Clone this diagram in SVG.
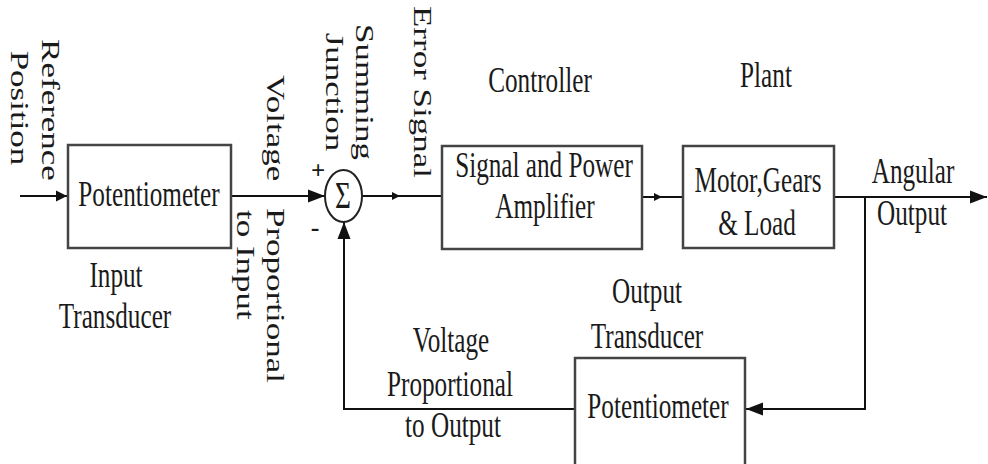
<svg xmlns="http://www.w3.org/2000/svg" width="988" height="464" viewBox="0 0 988 464">
<style>
.t{font-family:"Liberation Serif","Times New Roman",serif;font-size:35px;fill:#1a1a1a}
.c{text-anchor:middle}
.box{fill:#fff;stroke:#444;stroke-width:2.5}
.ln{fill:none;stroke:#111;stroke-width:2}
</style>
<defs>
<marker id="ahL" markerUnits="userSpaceOnUse" markerWidth="18" markerHeight="14" refX="17" refY="7" orient="auto"><path d="M0,0.5 L17,7 L0,13.5 z" fill="#111"/></marker>
<marker id="ahM" markerUnits="userSpaceOnUse" markerWidth="12" markerHeight="12" refX="11" refY="6" orient="auto"><path d="M0,0.5 L11,6 L0,11.5 z" fill="#111"/></marker>
<marker id="ahS" markerUnits="userSpaceOnUse" markerWidth="9" markerHeight="9" refX="8" refY="4.5" orient="auto"><path d="M0,0.5 L8,4.5 L0,8.5 z" fill="#111"/></marker>
</defs>
<rect width="988" height="464" fill="#fff"/>

<g id="connectors">
<path class="ln" d="M20,196 H67" marker-end="url(#ahM)"/>
<path class="ln" d="M231,196 H325" marker-end="url(#ahL)"/>
<path class="ln" d="M362,196 H400" marker-end="url(#ahS)"/>
<path class="ln" d="M399,196 H442"/>
<path class="ln" d="M642,197 H662" marker-end="url(#ahS)"/>
<path class="ln" d="M661,197 H683"/>
<path class="ln" d="M834,197 H987" marker-end="url(#ahL)"/>
<path class="ln" d="M865,197 V409 H746" marker-end="url(#ahL)"/>
<path class="ln" d="M575,409 H344 V222" marker-end="url(#ahL)"/>
</g>

<g id="input-potentiometer">
<rect class="box" x="68" y="145" width="163" height="103"/>
<text class="t c" transform="translate(149,206) scale(0.72,1)">Potentiometer</text>
</g>

<g id="summing-junction">
<ellipse cx="343.5" cy="196" rx="18.5" ry="26" fill="#fff" stroke="#222" stroke-width="2"/>
<text class="t c" style="font-size:38px" transform="translate(343,208) scale(0.72,1)">Σ</text>
<text class="t c" style="font-size:25px;font-weight:bold" transform="translate(318,179)">+</text>
<text class="t c" style="font-size:26px;font-weight:bold" transform="translate(315,236)">-</text>
</g>

<g id="controller">
<rect class="box" x="442" y="146" width="200" height="103"/>
<text class="t c" transform="translate(544,177) scale(0.72,1)">Signal and Power</text>
<text class="t c" transform="translate(545,218) scale(0.72,1)">Amplifier</text>
</g>

<g id="plant">
<rect class="box" x="683" y="146" width="151" height="102"/>
<text class="t c" transform="translate(758,192) scale(0.72,1)">Motor,Gears</text>
<text class="t c" transform="translate(757,235) scale(0.72,1)">&amp; Load</text>
</g>

<g id="output-potentiometer">
<rect class="box" x="575" y="358" width="170" height="112"/>
<text class="t c" transform="translate(658,418) scale(0.72,1)">Potentiometer</text>
</g>

<g id="labels">
<text class="t c" transform="translate(42,0) scale(0.72,1) rotate(90)" x="110">Reference</text>
<text class="t c" transform="translate(11,0) scale(0.72,1) rotate(90)" x="108">Position</text>
<text class="t" transform="translate(267,0) scale(0.72,1) rotate(90)"><tspan x="75">Voltage</tspan><tspan x="208">Proportional</tspan></text>
<text class="t" transform="translate(237,0) scale(0.72,1) rotate(90)" x="210">to Input</text>
<text class="t c" transform="translate(356,0) scale(0.72,1) rotate(90)" x="92">Summing</text>
<text class="t c" transform="translate(326,0) scale(0.72,1) rotate(90)" x="92">Junction</text>
<text class="t c" transform="translate(414,0) scale(0.72,1) rotate(90)" x="92">Error Signal</text>
<text class="t c" transform="translate(116,287) scale(0.72,1)">Input</text>
<text class="t c" transform="translate(115,328) scale(0.72,1)">Transducer</text>
<text class="t c" transform="translate(540,92) scale(0.72,1)">Controller</text>
<text class="t c" transform="translate(766,87) scale(0.72,1)">Plant</text>
<text class="t c" transform="translate(913,183) scale(0.72,1)">Angular</text>
<text class="t c" transform="translate(912,225) scale(0.72,1)">Output</text>
<text class="t c" transform="translate(647,303) scale(0.72,1)">Output</text>
<text class="t c" transform="translate(647,348) scale(0.72,1)">Transducer</text>
<text class="t c" transform="translate(451,352) scale(0.72,1)">Voltage</text>
<text class="t c" transform="translate(450,396) scale(0.72,1)">Proportional</text>
<text class="t c" transform="translate(453,437) scale(0.72,1)">to Output</text>
</g>
</svg>
